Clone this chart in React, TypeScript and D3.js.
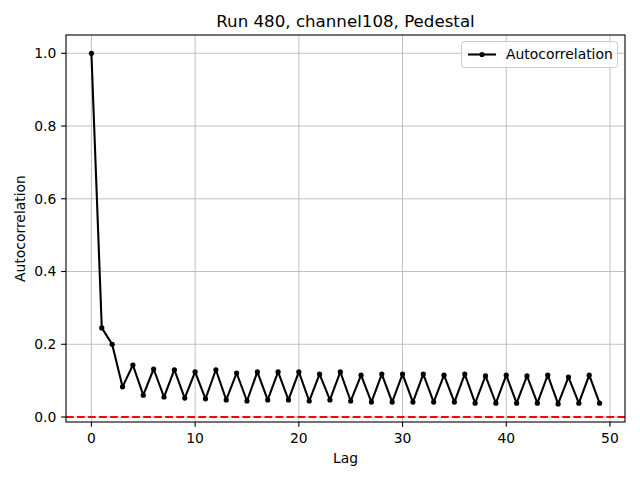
import React from "react";
import * as d3 from "d3";

const lags: number[] = Array.from({ length: 50 }, (_, i) => i);
const autocorr: number[] = [
  1.0, 0.245, 0.2, 0.083, 0.143, 0.06, 0.132, 0.055, 0.13, 0.052,
  0.124, 0.05, 0.13, 0.047, 0.121, 0.044, 0.124, 0.047, 0.124, 0.047,
  0.124, 0.044, 0.118, 0.047, 0.124, 0.044, 0.115, 0.041, 0.118, 0.041,
  0.118, 0.041, 0.118, 0.041, 0.115, 0.041, 0.118, 0.038, 0.113, 0.038,
  0.115, 0.038, 0.113, 0.038, 0.115, 0.036, 0.11, 0.038, 0.115, 0.038,
];
const xTicks: number[] = [0, 10, 20, 30, 40, 50];
const yTicks: number[] = [0.0, 0.2, 0.4, 0.6, 0.8, 1.0];
const title = "Run 480, channel108, Pedestal";
const xLabel = "Lag";
const yLabel = "Autocorrelation";
const seriesName = "Autocorrelation";

export default function App() {
  const W = 640, H = 480;
  const left = 66, right = 625, top = 35, bottom = 422;
  const x = d3.scaleLinear().domain([-2.45, 51.45]).range([left, right]);
  const y = d3.scaleLinear().domain([-0.0137, 1.0503]).range([bottom, top]);
  const line = d3.line<number>().x((_, i) => x(lags[i])).y((d) => y(d));
  const font = "DejaVu Sans, sans-serif";
  const tickLen = 4.86;
  return (
    <svg width={W} height={H} style={{ position: "absolute", left: 0, top: 0, background: "#fff" }} fontFamily={font}>
      <rect x={0} y={0} width={W} height={H} fill="#fff" />
      {/* grid */}
      {xTicks.map((t) => (
        <line key={"gx" + t} x1={x(t)} x2={x(t)} y1={top} y2={bottom} stroke="#b0b0b0" strokeWidth={0.8} />
      ))}
      {yTicks.map((t) => (
        <line key={"gy" + t} x1={left} x2={right} y1={y(t)} y2={y(t)} stroke="#b0b0b0" strokeWidth={0.8} />
      ))}
      {/* zero line */}
      <line x1={left} x2={right} y1={y(0)} y2={y(0)} stroke="#ff0000" strokeWidth={2.08} strokeDasharray="7.7,3.33" />
      {/* data */}
      <path d={line(autocorr) || ""} fill="none" stroke="#000" strokeWidth={2.08} strokeLinejoin="round" />
      {autocorr.map((v, i) => (
        <circle key={i} cx={x(lags[i])} cy={y(v)} r={2.6} fill="#000" />
      ))}
      {/* frame */}
      <rect x={left} y={top} width={right - left} height={bottom - top} fill="none" stroke="#000" strokeWidth={1.1} />
      {/* ticks */}
      {xTicks.map((t) => (
        <g key={"tx" + t}>
          <line x1={x(t)} x2={x(t)} y1={bottom} y2={bottom + tickLen} stroke="#000" strokeWidth={1.1} />
          <text x={x(t)} y={bottom + tickLen + 4.86 + 11} textAnchor="middle" fontSize={13.9} fill="#000">
            {String(t)}
          </text>
        </g>
      ))}
      {yTicks.map((t) => (
        <g key={"ty" + t}>
          <line x1={left - tickLen} x2={left} y1={y(t)} y2={y(t)} stroke="#000" strokeWidth={1.1} />
          <text x={left - tickLen - 4.86} y={y(t)} dy="0.35em" textAnchor="end" fontSize={13.9} fill="#000">
            {t.toFixed(1)}
          </text>
        </g>
      ))}
      {/* labels */}
      <text x={(left + right) / 2} y={27} textAnchor="middle" fontSize={16.67} fill="#000">{title}</text>
      <text x={(left + right) / 2} y={463} textAnchor="middle" fontSize={13.9} fill="#000">{xLabel}</text>
      <text transform={`translate(25,${(top + bottom) / 2}) rotate(-90)`} textAnchor="middle" fontSize={13.9} fill="#000">{yLabel}</text>
      {/* legend */}
      <g>
        <rect x={461.5} y={41.5} width={156} height={26} rx={3} fill="#fff" fillOpacity={0.8} stroke="#cccccc" strokeWidth={1} />
        <line x1={468} x2={496} y1={54.5} y2={54.5} stroke="#000" strokeWidth={2.08} />
        <circle cx={482} cy={54.5} r={2.6} fill="#000" />
        <text x={506} y={54.5} dy="0.35em" fontSize={13.9} fill="#000">{seriesName}</text>
      </g>
    </svg>
  );
}
